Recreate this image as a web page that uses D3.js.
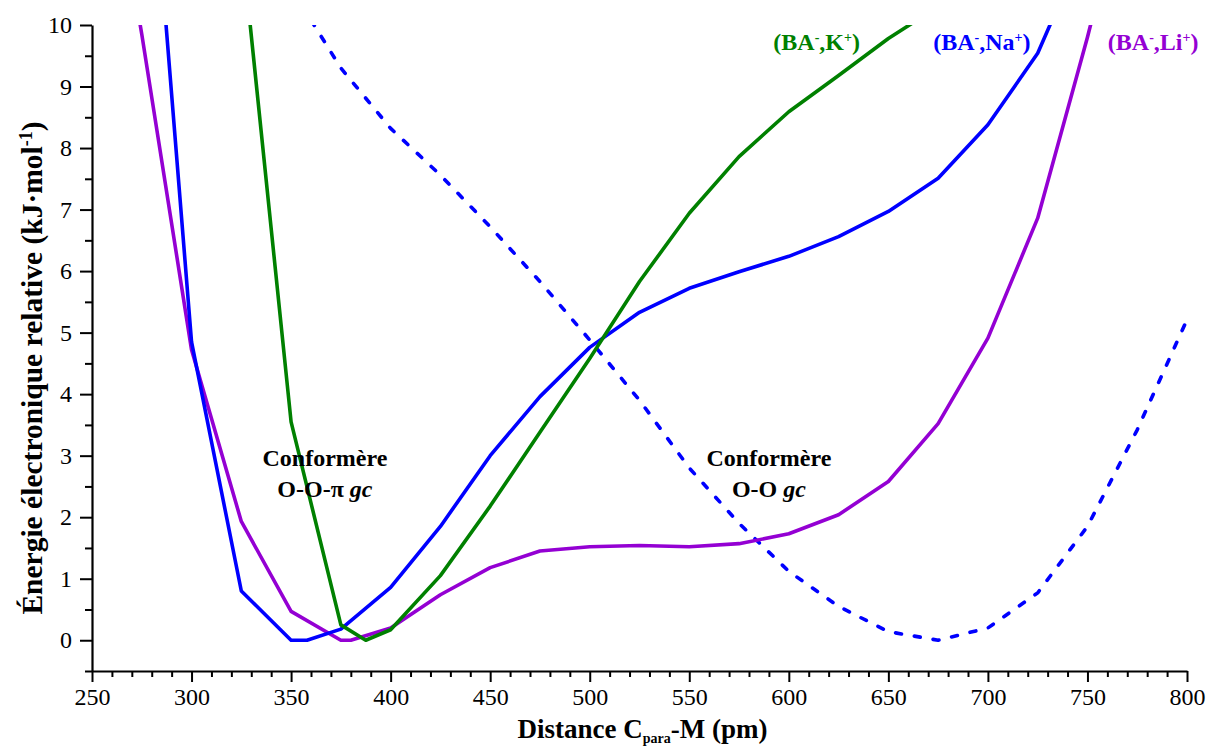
<!DOCTYPE html>
<html>
<head>
<meta charset="utf-8">
<script src="https://cdn.jsdelivr.net/npm/d3@7"></script>
<style>
  html, body { margin: 0; padding: 0; background: #fff; }
  svg { display: block; }
  text { font-family: "Liberation Serif", "Times New Roman", serif; }
</style>
</head>
<body>
<script>
// ---- data ----
const naDistances = [275, 300, 325, 350, 358, 375, 400, 425, 450, 475, 500, 525, 550, 575, 600, 625, 650, 675, 700, 725, 750];
const naEnergies  = [14.9, 4.85, 0.8, 0.0, 0.0, 0.18, 0.86, 1.85, 3.0, 3.96, 4.76, 5.33, 5.72, 5.99, 6.24, 6.56, 6.97, 7.51, 8.38, 9.54, 11.4];

const kDistances = [325, 350, 375, 387.5, 400, 425, 450, 475, 500, 525, 550, 575, 600, 625, 650, 675];
const kEnergies  = [11.4, 3.55, 0.25, 0.0, 0.17, 1.05, 2.18, 3.38, 4.58, 5.83, 6.94, 7.86, 8.59, 9.18, 9.78, 10.3];

const liDistances = [270, 275, 300, 325, 350, 375, 380, 400, 425, 450, 475, 500, 525, 550, 575, 600, 625, 650, 675, 700, 725, 750, 775];
const liEnergies  = [10.8, 9.85, 4.72, 1.93, 0.47, 0.0, 0.0, 0.2, 0.74, 1.18, 1.45, 1.52, 1.54, 1.52, 1.57, 1.73, 2.04, 2.58, 3.52, 4.91, 6.86, 9.8, 13.0];

const naGcDistances = [350, 375, 400, 425, 450, 475, 500, 525, 550, 575, 600, 625, 650, 675, 700, 725, 750, 775, 800];
const naGcEnergies  = [10.6, 9.3, 8.32, 7.56, 6.72, 5.83, 4.88, 3.9, 2.8, 1.9, 1.12, 0.55, 0.14, 0.0, 0.2, 0.77, 1.85, 3.42, 5.21];

const xMajorTicks = [250, 300, 350, 400, 450, 500, 550, 600, 650, 700, 750, 800];
const yMajorTicks = [0, 1, 2, 3, 4, 5, 6, 7, 8, 9, 10];

// ---- layout ----
const W = 1207, H = 746;
const margin = { left: 92, right: 20, top: 25, bottom: 75 };

const svg = d3.select("body").append("svg").attr("width", W).attr("height", H);

const x = d3.scaleLinear().domain([250, 800]).range([margin.left, W - margin.right]);
const y = d3.scaleLinear().domain([-0.5, 10]).range([H - margin.bottom, margin.top]);

svg.append("clipPath").attr("id", "plotclip")
  .append("rect")
  .attr("x", x(250)).attr("y", y(10))
  .attr("width", x(800) - x(250)).attr("height", y(-0.5) - y(10));

const line = d3.line().x(d => x(d[0])).y(d => y(d[1]));

const series = [
  { xs: naGcDistances, ys: naGcEnergies, color: "#0000ff", dash: "6,13" },
  { xs: liDistances, ys: liEnergies, color: "#9400d3" },
  { xs: naDistances, ys: naEnergies, color: "#0000ff" },
  { xs: kDistances, ys: kEnergies, color: "#008000" }
];

const plot = svg.append("g").attr("clip-path", "url(#plotclip)");
series.forEach(s => {
  plot.append("path")
    .datum(d3.zip(s.xs, s.ys))
    .attr("d", line)
    .attr("fill", "none")
    .attr("stroke", s.color)
    .attr("stroke-width", 3.6)
    .attr("stroke-linejoin", "round")
    .attr("stroke-linecap", "round")
    .attr("stroke-dasharray", s.dash || null);
});

// ---- axes ----
const xMinor = d3.range(250, 801, 10).filter(v => v % 50 !== 0);
const yMinor = d3.range(-0.5, 10, 1);

const gx = svg.append("g").attr("transform", `translate(0,${y(-0.5)})`);
gx.call(d3.axisBottom(x).tickValues(xMajorTicks).tickSize(11).tickSizeOuter(0).tickPadding(6).tickFormat(d3.format("d")));
const gxm = svg.append("g").attr("transform", `translate(0,${y(-0.5)})`);
gxm.call(d3.axisBottom(x).tickValues(xMinor).tickSize(6).tickSizeOuter(0).tickFormat(""));
gxm.select(".domain").remove();

const gy = svg.append("g").attr("transform", `translate(${x(250)},0)`);
gy.call(d3.axisLeft(y).tickValues(yMajorTicks).tickSize(12).tickSizeOuter(0).tickPadding(8).tickFormat(d3.format("d")));
const gym = svg.append("g").attr("transform", `translate(${x(250)},0)`);
gym.call(d3.axisLeft(y).tickValues(yMinor).tickSize(7).tickSizeOuter(0).tickFormat(""));
gym.select(".domain").remove();

[gx, gxm, gy, gym].forEach(g => {
  g.selectAll(".domain").attr("stroke", "#000").attr("stroke-width", 2.2);
  g.selectAll(".tick line").attr("stroke", "#000").attr("stroke-width", 2);
});
gx.selectAll(".tick text").attr("font-family", "Liberation Serif").attr("font-size", 24).attr("fill", "#000");
gy.selectAll(".tick text").attr("font-family", "Liberation Serif").attr("font-size", 24).attr("fill", "#000");

// ---- axis titles ----
const xt = svg.append("text")
  .attr("x", x(525) + 3).attr("y", 738)
  .attr("text-anchor", "middle")
  .attr("font-weight", "bold").attr("font-size", 27).attr("fill", "#000");
xt.append("tspan").text("Distance C");
xt.append("tspan").attr("dy", 5).attr("font-size", 14).text("para");
xt.append("tspan").attr("dy", -5).text("-M (pm)");

const yt = svg.append("text")
  .attr("transform", `translate(42,${(y(-0.5) + y(10)) / 2 + 20}) rotate(-90)`)
  .attr("text-anchor", "middle")
  .attr("font-weight", "bold").attr("font-size", 29.5).attr("fill", "#000");
yt.append("tspan").text("Énergie électronique relative (kJ·mol");
yt.append("tspan").attr("dy", -10).attr("font-size", 18).text("-1");
yt.append("tspan").attr("dy", 10).text(")");

// ---- series labels ----
function ionLabel(cx, cy, cation, color) {
  const t = svg.append("text")
    .attr("x", x(cx)).attr("y", y(cy))
    .attr("text-anchor", "middle")
    .attr("font-weight", "bold").attr("font-size", 24).attr("fill", color);
  t.append("tspan").text("(BA");
  t.append("tspan").attr("dy", -8).attr("font-size", 14).text("-");
  t.append("tspan").attr("dy", 8).text("," + cation);
  t.append("tspan").attr("dy", -8).attr("font-size", 14).text("+");
  t.append("tspan").attr("dy", 8).text(")");
}
ionLabel(614, 9.6, "K", "#008000");
ionLabel(697, 9.6, "Na", "#0000ff");
ionLabel(783, 9.6, "Li", "#9400d3");

// ---- conformer annotations ----
function annot(cx, name) {
  const g = svg.append("g").attr("font-weight", "bold").attr("font-size", 24).attr("fill", "#000");
  g.append("text").attr("x", x(cx)).attr("y", y(2.83)).attr("text-anchor", "middle").text("Conformère");
  const t = g.append("text").attr("x", x(cx)).attr("y", y(2.33)).attr("text-anchor", "middle");
  t.append("tspan").text(name + " ");
  t.append("tspan").attr("font-style", "italic").text("gc");
}
annot(367, "O-O-π");
annot(590, "O-O");
</script>
</body>
</html>
